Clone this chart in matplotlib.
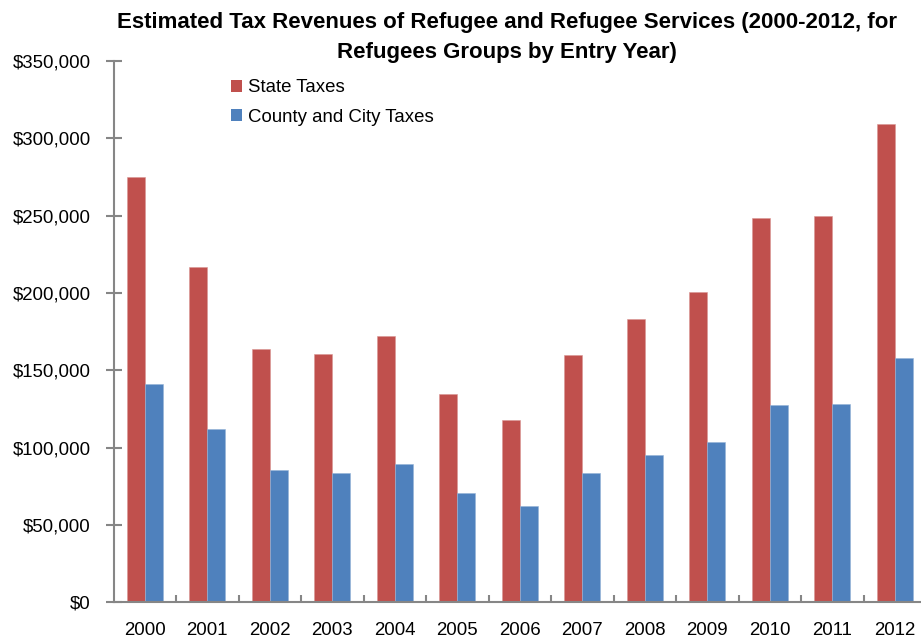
import matplotlib
matplotlib.use("Agg")
import matplotlib.pyplot as plt
from matplotlib.patches import Patch
from matplotlib.ticker import FuncFormatter, FixedLocator
import numpy as np

years = ["2000", "2001", "2002", "2003", "2004", "2005", "2006",
         "2007", "2008", "2009", "2010", "2011", "2012"]
state_taxes = [275100, 216900, 163800, 160800, 172000, 134500, 117700,
               160000, 183300, 200500, 248400, 249700, 309200]
county_city_taxes = [141200, 111900, 85400, 83800, 89500, 70500, 62100,
                     83400, 95100, 103700, 127600, 128500, 158000]
series_names = ["State Taxes", "County and City Taxes"]
title = "Estimated Tax Revenues of Refugee and Refugee Services (2000-2012, for\nRefugees Groups by Entry Year)"

RED = "#C0504D"
BLUE = "#4F81BD"
GRAY = "#868686"

plt.rcParams['font.family'] = ['Liberation Sans', 'DejaVu Sans']

W, H = 921, 639
fig = plt.figure(figsize=(W / 100, H / 100), dpi=100)
ax = fig.add_axes([113.5 / W, (H - 602.3) / H, 812.5 / W, 541.1 / H])

x = np.arange(len(years))
bw = 0.288
ax.bar(x - bw / 2, state_taxes, width=bw, color=RED, edgecolor="#D99694", linewidth=0.4, label=series_names[0])
ax.bar(x + bw / 2, county_city_taxes, width=bw, color=BLUE, edgecolor="#95B3D7", linewidth=0.4, label=series_names[1])

ax.set_xlim(-0.5, len(years) - 0.5)
ax.set_ylim(0, 350000)
ax.set_yticks(np.arange(0, 350001, 50000))
ax.yaxis.set_major_formatter(FuncFormatter(lambda v, p: "$0" if v == 0 else "${:,.0f}".format(v)))

ax.set_xticks(x)
ax.set_xticklabels(years)
ax.xaxis.set_minor_locator(FixedLocator(np.arange(0.5, len(years) - 1, 1.0)))

for s in ["top", "right"]:
    ax.spines[s].set_visible(False)
for s in ["left", "bottom"]:
    ax.spines[s].set_color(GRAY)
    ax.spines[s].set_linewidth(1.5)

fs = 13.4
ax.tick_params(axis="y", which="major", direction="inout", length=11.5, width=1.5,
               color=GRAY, pad=10.7, labelsize=fs, labelcolor="black")
ax.tick_params(axis="x", which="major", length=0, pad=14.5, labelsize=fs, labelcolor="black")
ax.tick_params(axis="x", which="minor", direction="in", length=4.7, width=1.5, color=GRAY)

handles = [Patch(facecolor=RED, edgecolor="none"), Patch(facecolor=BLUE, edgecolor="none")]
fig.legend(handles, series_names, loc="upper left",
           bbox_to_anchor=(231 / W, 1 - 79.5 / H), frameon=False,
           fontsize=fs, handlelength=0.59, handleheight=0.59, handletextpad=0.3,
           labelspacing=0.66, borderpad=0, borderaxespad=0)

fig.text(507 / W, 1 - 37.5 / H, title, ha="center", va="center",
         fontsize=16, fontweight="bold", linespacing=1.55)

fig.savefig("out.png", dpi=100)
